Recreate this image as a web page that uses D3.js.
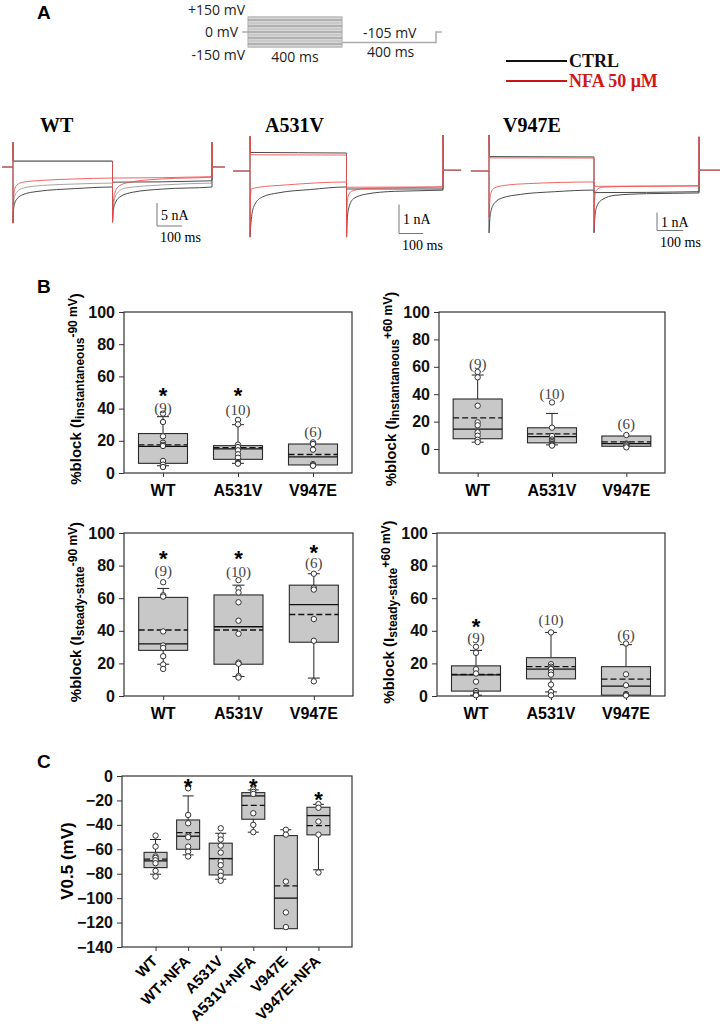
<!DOCTYPE html>
<html>
<head>
<meta charset="utf-8">
<script src="https://cdn.jsdelivr.net/npm/d3@7"></script>
<style>
  body { margin: 0; background: #fff; }
  svg { display: block; }
</style>
</head>
<body>
<div id="fig"></div>
<script>
// ---- panel A : protocol + current traces ----
const protocolSteps = [150, 120, 90, 60, 30, 0, -30, -60, -90, -120, -150]; // mV
const protocolTail = -105;          // mV
const stepMs = 400, tailMs = 400;
const legendItems = ["CTRL", "NFA 50 μM"];
const traceGroups = ["WT", "A531V", "V947E"];

// traces: [series, [[ms, nA], ...]]
const wtTraces = [
  ["grey", [[0,-12.2],[2,-8.5],[6,-6.5],[15,-5.5],[40,-4.6],[120,-4],[250,-3.7],[400,-3.5],[400,-12],[403,-9],[415,-6],[450,-4.6],[600,-3.9],[800,-3.5]]],
  ["CTRL", [[-44,0],[0,0],[0,5.4],[1,1.3],[400,1.3],[400,-3.3],[800,-3.0],[800,5.4],[801,0],[852,0]]],
  ["CTRL", [[0,0],[0,-12.2],[2,-9.5],[6,-8],[15,-7],[40,-6],[100,-5.3],[250,-4.7],[400,-4.35],[400,-12],[403,-9.5],[410,-8],[430,-6.5],[480,-5.5],[600,-4.8],[800,-4.35],[800,0]]],
  ["NFA", [[-44,0],[0,0],[0,5.4],[1,1.2],[400,1.2],[400,-2.4],[800,-2.1],[800,5.4],[801,0],[852,0]]],
  ["NFA", [[0,0],[0,-12.2],[2,-7],[6,-5],[15,-4],[40,-3.3],[120,-2.9],[250,-2.6],[400,-2.4],[400,-12],[403,-8],[410,-5.5],[430,-4],[480,-3.2],[600,-2.6],[800,-2.2],[800,0]]]
];
const a531vTraces = [
  ["CTRL", [[-70,0],[0,0],[0,1.2],[2,0.64],[400,0.62],[400,-0.62],[800,-0.62],[800,1.24],[801,0.03],[875,0.03]]],
  ["CTRL", [[0,0],[0,-2.28],[3,-1.9],[8,-1.5],[20,-1.15],[50,-0.9],[120,-0.75],[250,-0.64],[400,-0.55],[400,-2.28],[403,-1.7],[410,-1.25],[430,-0.95],[480,-0.8],[600,-0.7],[800,-0.66],[800,0]]],
  ["NFA", [[-70,0],[0,0],[0,1.2],[2,0.56],[400,0.55],[400,-0.56],[800,-0.55],[800,1.24],[801,0.03],[875,0.03]]],
  ["NFA", [[0,0],[0,-2.28],[2,-0.9],[6,-0.62],[30,-0.57],[150,-0.48],[400,-0.38],[400,-2.28],[402,-1.3],[406,-0.9],[420,-0.7],[480,-0.6],[800,-0.55],[800,0]]]
];
const v947eTraces = [
  ["CTRL", [[-69,0],[0,0],[0,2.0],[2,0.8],[400,0.78],[400,-1.2],[800,-1.15],[800,1.9],[801,0.05],[880,0.05]]],
  ["CTRL", [[0,0],[0,-3.44],[3,-2.7],[8,-2.2],[20,-1.8],[50,-1.5],[120,-1.3],[250,-1.15],[400,-1.06],[400,-3.44],[403,-2.6],[410,-2.0],[430,-1.6],[480,-1.35],[600,-1.26],[800,-1.22],[800,0]]],
  ["NFA", [[-69,0],[0,0],[0,2.0],[2,0.73],[400,0.72],[400,-0.85],[800,-0.82],[800,1.9],[801,0.05],[880,0.05]]],
  ["NFA", [[0,0],[0,-2.56],[3,-1.7],[8,-1.2],[20,-0.95],[60,-0.8],[150,-0.7],[400,-0.61],[400,-3.2],[402,-1.6],[408,-1.1],[430,-0.9],[550,-0.85],[800,-0.83],[800,0]]]
];

// ---- panel B : % block box plots ----
const groupsB = ["WT", "A531V", "V947E"];
const countsB = ["(9)", "(10)", "(6)"];
// stats rows: [q1, median, q3, mean, whiskerLow, whiskerHigh]
const b1Stats = [[6, 16.5, 24.5, 17.5, 4.5, 35], [8.5, 15, 17, 15.8, 6, 30], [5, 10, 18, 11.5, null, null]];
const b1Points = [[36.9, 31.7, 22.8, 18.8, 17.5, 16.8, 7.5, 5.2, 3.7], [33, 30.2, 17.6, 16.1, 14.1, 11.6, 9.5, 6.8, 6.2, 5.8], [19, 18, 14.5, 5.5, 4.8, 4.5]];
const b1CountY = [40.5, 39.5, 25.5];
const b1StarY = [51, 51, null];

const b2Stats = [[7.5, 14.5, 36.5, 22.8, 5, 54], [4.5, 9, 15.5, 11, 3, 26], [2, 4, 9.5, 5.2, null, null]];
const b2Points = [[56.2, 52.3, 31.6, 19.5, 17.3, 12.2, 9.7, 6.8, 5.1], [34, 15.6, 9.5, 7, 6, 5, 4, 3.5, 3, 2.5], [10.2, 4, 3.5, 3, 2, 1.2]];
const b2CountY = [62.5, 40.5, 18.5];
const b2StarY = [null, null, null];

const b3Stats = [[28, 32, 60.5, 40.5, 19.5, 66], [19.5, 42.5, 62, 40.5, 12, 68], [33, 56, 68, 50, 11, 75]];
const b3Points = [[69.8, 61.8, 61, 39.6, 31, 29.5, 24.4, 19.3, 16.6], [71.1, 66, 63.5, 57.5, 46.2, 38.2, 20.5, 19.8, 12.2, 11.3], [75, 66.3, 65.3, 47.2, 33.9, 9]];
const b3CountY = [77, 76, 82];
const b3StarY = [87, 87, 90.5];

const b4Stats = [[3, 13, 18.5, 13.2, 0.5, 28], [10.5, 16.5, 23.5, 18, 2.5, 39], [0.5, 6, 18, 10.3, null, 31.5]];
const b4Points = [[30.2, 26.5, 16.4, 13.8, 8.8, 3, 1.8, 0.8, 0.4], [39, 19.5, 18, 17, 16.5, 14.6, 13.1, 7, 2.5, 0.4], [32.2, 13.3, 6.6, 1.2, 0.6, 0.3]];
const b4CountY = [36, 46.6, 37.4];
const b4StarY = [45.5, null, null];

const ticksB = [0, 20, 40, 60, 80, 100];

// ---- panel C : V0.5 ----
const groupsC = ["WT", "WT+NFA", "A531V", "A531V+NFA", "V947E", "V947E+NFA"];
const cStats = [
  [-75, -69.5, -62.5, -68, -80.4, -52],
  [-60, -49.3, -36, -46.3, -64.6, -16.3],
  [-81, -67.6, -55, -67.6, -84.5, -46.9],
  [-35.4, -16.3, -13.6, -24, -46, -11.4],
  [-125, -100, -48.8, -90, null, -44],
  [-48.2, -32.4, -25.6, -40.6, -76.8, -23.2]
];
const cPoints = [
  [-48.8, -57.8, -65.9, -67, -69, -71.4, -77.7, -82.3],
  [-10.1, -31.9, -38.7, -48.8, -50.1, -57.8, -61.9, -65.9],
  [-42.8, -48.8, -52, -57, -62.7, -70, -73, -78.5, -81.7, -85.8],
  [-11, -13, -14.7, -30.5, -40, -46],
  [-44, -48, -86.4, -111.7, -123.7],
  [-23, -26, -37.3, -48, -79]
];
const cStarY = [null, -4.6, null, -4.6, null, -15.5];
const ticksC = [0, -20, -40, -60, -80, -100, -120, -140];

const SANS = "Liberation Sans, Arial, sans-serif";
const SERIF = "Liberation Serif, Times New Roman, serif";
const traceColor = { CTRL: "#4a4a4a", NFA: "#ef4a4a", grey: "#a6a6a6" };

const svg = d3.select("#fig").append("svg")
  .attr("width", 720)
  .attr("height", 1024);

// panel letters
[["A", 19], ["B", 293], ["C", 768]].forEach(([t, y]) => {
  svg.append("text")
    .attr("x", 37).attr("y", y)
    .attr("font-family", SANS).attr("font-weight", "bold").attr("font-size", 19)
    .text(t);
});

// ---------- protocol ----------
const pt = d3.scaleLinear().domain([0, stepMs + tailMs]).range([248, 436]);
const pv = d3.scaleLinear().domain([-150, 150]).range([47, 17]);
const proto = svg.append("g");
proto.append("rect")
  .attr("x", pt(0)).attr("y", pv(150))
  .attr("width", pt(stepMs) - pt(0)).attr("height", pv(-150) - pv(150))
  .attr("fill", "#d6d6d6").attr("stroke", "#a9a9a9");
proto.selectAll("line.step")
  .data(protocolSteps)
  .join("line")
  .attr("class", "step")
  .attr("x1", pt(0)).attr("x2", pt(stepMs))
  .attr("y1", d => pv(d)).attr("y2", d => pv(d))
  .attr("stroke", (d, i) => i % 2 ? "#a4a4a4" : "#c4c4c4")
  .attr("stroke-width", 1.3);
proto.append("path")
  .attr("d", `M${pt(-25)},${pv(0)}H${pt(0)}M${pt(stepMs)},${pv(protocolTail)}H${pt(stepMs + tailMs)}V${pv(0)}H${pt(stepMs + tailMs + 25)}`)
  .attr("fill", "none").attr("stroke", "#aaa").attr("stroke-width", 1.5);

const protoText = (txt, x, y, anchor) => proto.append("text")
  .attr("x", x).attr("y", y).attr("text-anchor", anchor)
  .attr("font-family", "Open Sans, sans-serif").attr("font-size", 14).attr("fill", "#222")
  .text(txt);
protoText("+150 mV", 245, 15, "end");
protoText("0 mV", 238, 37, "end");
protoText("-150 mV", 245, 60, "end");
protoText(stepMs + " ms", (pt(0) + pt(stepMs)) / 2, 62, "middle");
protoText(protocolTail + " mV", 363, 38, "start");
protoText(tailMs + " ms", 367, 57, "start");

// legend
const legColors = ["#111", "#c81414"];
legendItems.forEach((name, i) => {
  const y = 61 + i * 20;
  svg.append("line").attr("x1", 506).attr("x2", 567).attr("y1", y).attr("y2", y)
    .attr("stroke", legColors[i]).attr("stroke-width", 2);
  svg.append("text").attr("x", 569).attr("y", y + 6)
    .attr("font-family", SERIF).attr("font-weight", "bold").attr("font-size", 18)
    .attr("fill", i ? "#d01818" : "#111")
    .text(name);
});

// ---------- current traces ----------
function drawTraces(label, traces, labelX, xRange, yZero, pxPerNA, barNA, barAnchor) {
  const g = svg.append("g");
  const x = d3.scaleLinear().domain([0, stepMs + tailMs]).range(xRange);
  const y = d3.scaleLinear().domain([0, 1]).range([yZero, yZero - pxPerNA]);
  const line = d3.line().x(d => x(d[0])).y(d => y(d[1])).curve(d3.curveMonotoneX);

  g.append("text")
    .attr("x", labelX).attr("y", 132)
    .attr("font-family", SERIF).attr("font-weight", "bold").attr("font-size", 20)
    .text(label);

  g.selectAll("path.trace")
    .data(traces)
    .join("path")
    .attr("class", "trace")
    .attr("d", d => line(d[1]))
    .attr("fill", "none")
    .attr("stroke", d => traceColor[d[0]])
    .attr("stroke-width", 1)
    .attr("opacity", d => d[0] === "NFA" ? 0.85 : 1);

  // scale bar
  const [bx, by] = barAnchor;
  const vLen = y(0) - y(barNA);
  const hLen = x(100) - x(0);
  g.append("path")
    .attr("d", `M${bx},${by - vLen}V${by}H${bx + hLen}`)
    .attr("fill", "none").attr("stroke", "#777").attr("stroke-width", 1);
  g.append("text")
    .attr("x", bx + 4).attr("y", by - vLen / 2 + 5)
    .attr("font-family", SERIF).attr("font-size", 14)
    .text(barNA + " nA");
  g.append("text")
    .attr("x", bx + 3).attr("y", by + 16)
    .attr("font-family", SERIF).attr("font-size", 14)
    .text("100 ms");
}

drawTraces(traceGroups[0], wtTraces, 40, [13, 212], 167, 4.6, 5, [157, 226]);
drawTraces(traceGroups[1], a531vTraces, 265, [250, 443], 171, 29, 1, [399, 233.5]);
drawTraces(traceGroups[2], v947eTraces, 503, [489, 699], 171, 18, 1, [657, 230.5]);

// ---------- box plots ----------
function boxPanel(cfg) {
  const { left, right, top, bottom, domain, ticks, cats, stats, points, counts, countY, starY,
    boxW, capW, pad, rotate } = cfg;
  const x = d3.scalePoint().domain(cats).range([left, right]).padding(pad);
  const y = d3.scaleLinear().domain(domain).range([bottom, top]);
  const g = svg.append("g");

  g.append("rect")
    .attr("x", left).attr("y", top)
    .attr("width", right - left).attr("height", bottom - top)
    .attr("fill", "none").attr("stroke", "#333").attr("stroke-width", 1.2);

  const ya = g.append("g")
    .attr("transform", `translate(${left},0)`)
    .call(d3.axisLeft(y).tickValues(ticks).tickSize(5).tickPadding(4));
  ya.select(".domain").remove();
  ya.selectAll("line").attr("stroke", "#333");
  ya.selectAll("text")
    .attr("font-family", SANS).attr("font-weight", "bold").attr("font-size", 16).attr("fill", "#111");

  const xa = g.append("g")
    .attr("transform", `translate(0,${bottom})`)
    .call(d3.axisBottom(x).tickSize(4).tickFormat(""));
  xa.select(".domain").remove();
  xa.selectAll("line").attr("stroke", "#333");

  cats.forEach((c, i) => {
    const cx = x(c);
    const [q1, med, q3, mean, lo, hi] = stats[i];
    if (hi != null) {
      g.append("line").attr("x1", cx).attr("x2", cx).attr("y1", y(q3)).attr("y2", y(hi)).attr("stroke", "#222");
      g.append("line").attr("x1", cx - capW / 2).attr("x2", cx + capW / 2).attr("y1", y(hi)).attr("y2", y(hi)).attr("stroke", "#222");
    }
    if (lo != null) {
      g.append("line").attr("x1", cx).attr("x2", cx).attr("y1", y(q1)).attr("y2", y(lo)).attr("stroke", "#222");
      g.append("line").attr("x1", cx - capW / 2).attr("x2", cx + capW / 2).attr("y1", y(lo)).attr("y2", y(lo)).attr("stroke", "#222");
    }
    g.append("rect")
      .attr("x", cx - boxW / 2).attr("y", y(Math.max(q1, q3)))
      .attr("width", boxW).attr("height", Math.abs(y(q1) - y(q3)))
      .attr("fill", "#c8c8c8").attr("stroke", "#2a2a2a").attr("stroke-width", 1.1);
    g.append("line").attr("x1", cx - boxW / 2).attr("x2", cx + boxW / 2)
      .attr("y1", y(med)).attr("y2", y(med)).attr("stroke", "#111").attr("stroke-width", 1.3);
    g.append("line").attr("x1", cx - boxW / 2).attr("x2", cx + boxW / 2)
      .attr("y1", y(mean)).attr("y2", y(mean)).attr("stroke", "#111").attr("stroke-width", 1.3)
      .attr("stroke-dasharray", "6,3");

    g.selectAll(null)
      .data(points[i])
      .join("circle")
      .attr("cx", cx).attr("cy", d => y(d)).attr("r", 2.7)
      .attr("fill", "#fff").attr("stroke", "#333").attr("stroke-width", 1);

    if (counts) {
      g.append("text")
        .attr("x", cx).attr("y", y(countY[i])).attr("dy", "0.35em")
        .attr("text-anchor", "middle")
        .attr("font-family", SERIF).attr("font-size", 15).attr("fill", "#444")
        .text(counts[i]);
    }
    if (starY[i] != null) {
      g.append("text")
        .attr("x", cx).attr("y", y(starY[i]) + 12)
        .attr("text-anchor", "middle")
        .attr("font-family", SANS).attr("font-weight", "bold").attr("font-size", 22)
        .text("*");
    }

    if (rotate) {
      g.append("text")
        .attr("transform", `translate(${cx + 3},${bottom + 15}) rotate(-45)`)
        .attr("text-anchor", "end")
        .attr("font-family", SANS).attr("font-weight", "bold").attr("font-size", 15)
        .text(c);
    } else {
      g.append("text")
        .attr("x", cx).attr("y", bottom + 23)
        .attr("text-anchor", "middle")
        .attr("font-family", SANS).attr("font-weight", "bold").attr("font-size", 16)
        .text(c);
    }
  });
  return g;
}

function blockLabel(x, y, sub, sup) {
  const t = svg.append("text")
    .attr("transform", `translate(${x},${y}) rotate(-90)`)
    .attr("text-anchor", "middle")
    .attr("font-family", SANS).attr("font-weight", "bold").attr("font-size", 15);
  t.append("tspan").text("%block (I");
  t.append("tspan").attr("font-size", 12).attr("dy", 3).text(sub);
  t.append("tspan").attr("font-size", 12).attr("dy", -7).text(sup);
  t.append("tspan").attr("dy", 4).text(")");
}

const bCommon = { ticks: ticksB, cats: groupsB, counts: countsB, boxW: 49, capW: 12, pad: 0.52 };
boxPanel({ ...bCommon, left: 124, right: 352, top: 312, bottom: 473, domain: [0, 100],
  stats: b1Stats, points: b1Points, countY: b1CountY, starY: b1StarY });
boxPanel({ ...bCommon, left: 439, right: 665, top: 312, bottom: 473, domain: [-17.5, 100],
  stats: b2Stats, points: b2Points, countY: b2CountY, starY: b2StarY });
boxPanel({ ...bCommon, left: 124, right: 353, top: 533, bottom: 696, domain: [0, 100],
  stats: b3Stats, points: b3Points, countY: b3CountY, starY: b3StarY });
boxPanel({ ...bCommon, left: 437, right: 665, top: 533, bottom: 696, domain: [0, 100],
  stats: b4Stats, points: b4Points, countY: b4CountY, starY: b4StarY });

blockLabel(81, 389, "instantaneous", "-90 mV");
blockLabel(396, 389, "instantaneous", "+60 mV");
blockLabel(81, 612, "steady-state", "-90 mV");
blockLabel(394, 612, "steady-state", "+60 mV");

boxPanel({ left: 122, right: 352, top: 776, bottom: 947, domain: [-140, 0], ticks: ticksC,
  cats: groupsC, stats: cStats, points: cPoints, counts: null, countY: null, starY: cStarY,
  boxW: 23, capW: 11, pad: 1.03, rotate: true });

svg.append("text")
  .attr("transform", "translate(73,861) rotate(-90)")
  .attr("text-anchor", "middle")
  .attr("font-family", SANS).attr("font-weight", "bold").attr("font-size", 17)
  .text("V0.5 (mV)");
</script>
</body>
</html>
